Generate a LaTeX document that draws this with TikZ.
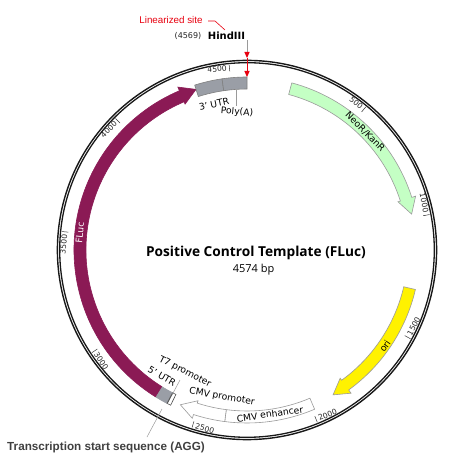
\documentclass[tikz,border=0pt]{standalone}
\usepackage{fontspec}
\setmainfont{DejaVu Sans}
\newfontfamily\arialb{Liberation Sans}
\newfontfamily\titlef{Open Sans}
\definecolor{fluc}{HTML}{8B1A55}
\definecolor{utrgray}{HTML}{9A9EA6}
\definecolor{neogreen}{HTML}{C4FFC4}
\definecolor{edgegray}{HTML}{9A9A9A}
\definecolor{linkred}{HTML}{E8000F}
\newcommand{\lblf}{\fontsize{9.2}{10}\selectfont}
\newcommand{\tickf}{\fontsize{7.6}{9}\selectfont}
\tikzset{lbl/.style={inner sep=0pt,font=\lblf}}
% body r 161-173, head r 158-177, tip r 168
\newcommand{\featarrow}[5]{% start, head base, tip, fill, draw
  \filldraw[fill=#4,draw=#5,line width=0.6pt]
    ({90-(#1)}:173) arc[start angle={90-(#1)},end angle={90-(#2)},radius=173]
    -- ({90-(#2)}:177) -- ({90-(#3)}:168.5) -- ({90-(#2)}:158.5) -- ({90-(#2)}:161)
    arc[start angle={90-(#2)},end angle={90-(#1)},radius=161] -- cycle;}
\newcommand{\featbox}[4]{% start,end,fill,draw
  \filldraw[fill=#3,draw=#4,line width=0.6pt]
    ({90-(#1)}:173) arc[start angle={90-(#1)},end angle={90-(#2)},radius=173]
    -- ({90-(#2)}:161) arc[start angle={90-(#2)},end angle={90-(#1)},radius=161] -- cycle;}
\newcommand{\ticktxt}[4]{% theta, anchor, rotation, text
  \draw[line width=0.5pt,black!80] ({90-(#1)}:186) -- ({90-(#1)}:179.5);
  \node[inner sep=0pt,font=\tickf,text=black!85,anchor=#2,rotate=#3] (t#4) at ({90-(#1)+0.8}:183) {#4};}
\begin{document}
\begin{tikzpicture}[x=1pt,y=1pt]
\useasboundingbox (-247,250) rectangle (208,-215);
\fill[white] (-247,250) rectangle (208,-215);
% ring
\draw[line width=1.4pt,black!90] (0,0) circle[radius=189.6];
\draw[line width=1.3pt,black!90] (0,0) circle[radius=187.3];
% ticks
\ticktxt{39.7}{east}{-39.7}{500}
\ticktxt{79}{east}{-79}{1000}
\ticktxt{118.5}{west}{61.5}{1500}
\ticktxt{157.8}{west}{22.2}{2000}
\ticktxt{197.2}{west}{-17.2}{2500}
\ticktxt{236.5}{west}{-56.5}{3000}
\ticktxt{275.7}{east}{84.3}{3500}
\ticktxt{315}{east}{45}{4000}
\ticktxt{354.5}{east}{5.5}{4500}
% features
\featarrow{15}{72.3}{77.7}{neogreen}{edgegray}
\featarrow{103.2}{144}{149.3}{yellow}{edgegray}
\featbox{157}{187.4}{white}{edgegray}
\featarrow{187.4}{198}{203.3}{white}{edgegray}
\featbox{206.2}{207.5}{white}{black!70}
\featbox{207.5}{212}{utrgray}{utrgray}
\draw[black!65,line width=0.9pt] ({90-207.5}:161) -- ({90-207.5}:173);
\featarrow{212}{337}{342.4}{fluc}{fluc}
\featbox{342.4}{351.7}{utrgray}{black!50}
\featbox{351.7}{360}{utrgray}{black!50}
% feature labels
\node[lbl,rotate=-45] (neo) at ({90-45}:167) {NeoR/KanR};
\node[lbl,rotate=84.2,text=white] (flabel) at ({90-275.8}:168) {FLuc};
\node[lbl,rotate=55.2] (ori) at ({90-124.8}:168) {ori};
\node[lbl,rotate=8] (enh) at (23,-164) {CMV enhancer};
\node[lbl,rotate=-10] (prom) at (-25,-147) {CMV promoter};
\node[lbl,rotate=-27] (t7) at (-62,-122) {T7 promoter};
\node[lbl,rotate=-30] (u5) at (-85,-126) {5' UTR};
% straight labels
\node[inner sep=0pt,font=\titlef\fontsize{13.7}{16}\selectfont\bfseries] (title) at (9,-3) {Positive Control Template (FLuc)};
\node[inner sep=0pt,font=\titlef\fontsize{11}{12}\selectfont] (size) at (6.5,-19.5) {4574 bp};
\node[lbl,rotate=12] (u3) at (-33,146) {3' UTR};
\node[lbl,rotate=-5] (pa) at (-10,138) {Poly(A)};
\node[inner sep=0pt,font=\fontsize{8}{9}\selectfont,text=black!85] (pos) at (-59,214) {(4569)};
\node[inner sep=0pt,font=\fontsize{10}{10}\selectfont\bfseries] (hind) at (-20.5,214) {HindIII};
\node[inner sep=0pt,font=\arialb\fontsize{9.8}{10}\selectfont,text=linkred] (lin) at (-76,230) {Linearized site};
\node[inner sep=0pt,font=\arialb\fontsize{11.7}{13}\selectfont\bfseries,text=black!75,anchor=west] (tss) at (-240,-197) {Transcription start sequence (AGG)};
% leaders
\coordinate (lin1) at (-39,229);
\coordinate (lin2) at (-32,229);
\coordinate (lin3) at (-22,220);
\draw[linkred,line width=0.6pt] (lin1) -- (lin2) -- (lin3);
\coordinate (siteA) at (0,210);
\coordinate (siteB) at (0,198);
\draw[edgegray,line width=0.6pt] (siteA) -- (siteB);
\coordinate (r1) at (-2.7,198); \coordinate (r2) at (2.7,198); \coordinate (r3) at (0,192);
\fill[linkred] (r1) -- (r2) -- (r3) -- cycle;
\coordinate (r4) at (-2.7,179); \coordinate (r5) at (2.7,179); \coordinate (r6) at (0,173);
\fill[linkred] (r4) -- (r5) -- (r6) -- cycle;
\draw[linkred,line width=0.9pt] (r3) -- (0,179);
\coordinate (paA) at (-11,160); \coordinate (paB) at (-11,144);
\draw[edgegray,line width=0.5pt] (paA) -- (paB);
\coordinate (t7A) at (-67,-130); \coordinate (t7B) at (-75,-145);
\draw[edgegray,line width=0.5pt] (t7A) -- (t7B);
\coordinate (tsA) at (-85,-159); \coordinate (tsB) at (-100,-187);
\draw[edgegray,line width=0.5pt] (tsA) -- (tsB);
\end{tikzpicture}
\end{document}
